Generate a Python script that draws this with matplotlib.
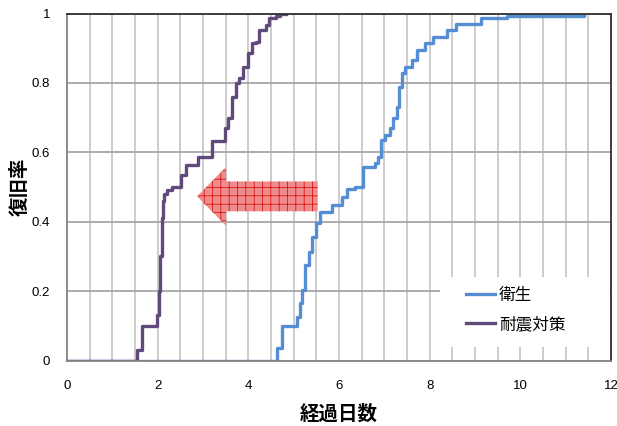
from matplotlib import pyplot as plt
from matplotlib.patches import FancyArrow, Rectangle
from matplotlib.ticker import MultipleLocator

# elapsed days / recovery rate (empirical step curves)
eisei_days = [0, 4.64, 4.74, 5.07, 5.13, 5.18, 5.25, 5.33, 5.40, 5.50, 5.59, 5.84, 6.06, 6.18,
              6.35, 6.54, 6.79, 6.87, 6.92, 7.02, 7.13, 7.18, 7.27, 7.33, 7.38, 7.46, 7.60, 7.71,
              7.90, 8.08, 8.39, 8.58, 9.13, 9.71, 11.40]
eisei_rate = [0, 0.036, 0.10, 0.126, 0.165, 0.203, 0.275, 0.314, 0.357, 0.395, 0.429, 0.448,
              0.472, 0.493, 0.50, 0.558, 0.568, 0.587, 0.635, 0.65, 0.669, 0.698, 0.731, 0.789,
              0.828, 0.847, 0.866, 0.895, 0.914, 0.933, 0.952, 0.971, 0.986, 0.993, 0.998]

taishin_days = [0, 1.54, 1.65, 1.98, 2.03, 2.06, 2.09, 2.12, 2.15, 2.20, 2.31, 2.51, 2.63, 2.90,
                3.19, 3.49, 3.56, 3.63, 3.72, 3.80, 3.88, 3.99, 4.08, 4.16, 4.23, 4.38, 4.45,
                4.60, 4.70, 4.83]
taishin_rate = [0, 0.03, 0.10, 0.13, 0.20, 0.30, 0.41, 0.46, 0.48, 0.49, 0.50, 0.535, 0.563,
                0.586, 0.633, 0.67, 0.70, 0.76, 0.80, 0.813, 0.847, 0.885, 0.914, 0.919, 0.952,
                0.967, 0.986, 0.993, 0.998, 1.0]

labels = ['衛生', '耐震対策']
x_ticks = [0, 2, 4, 6, 8, 10, 12]
y_ticks = [0, 0.2, 0.4, 0.6, 0.8, 1]

plt.rcParams['font.family'] = ['Liberation Sans', 'Noto Sans CJK JP']
plt.rcParams['hatch.linewidth'] = 0.5

fig = plt.figure(figsize=(6.17, 4.26), dpi=100)
ax = fig.add_axes([0.1086, 0.1537, 0.8817, 0.8146])

ax.plot(eisei_days, eisei_rate, drawstyle='steps-post', color='#558ED5', lw=2.4, label=labels[0])
ax.plot(taishin_days, taishin_rate, drawstyle='steps-post', color='#604A7B', lw=2.4, label=labels[1])

# shift arrow
arrow = FancyArrow(5.53, 0.473, -2.66, 0, width=0.086, head_width=0.17, head_length=0.64,
                   length_includes_head=True, facecolor='#ee8c8c', edgecolor='#d80000',
                   hatch='++', linewidth=0, zorder=3)
ax.add_patch(arrow)

ax.set_xlim(0, 12)
ax.set_ylim(0, 1)
ax.set_xticks(x_ticks)
ax.set_xticklabels([str(t) for t in x_ticks])
ax.set_yticks(y_ticks)
ax.set_yticklabels(['0', '0.2', '0.4', '0.6', '0.8', '1'])
ax.xaxis.set_minor_locator(MultipleLocator(0.5))
ax.tick_params(axis='both', which='both', length=0, labelsize=9.5)
ax.tick_params(axis='x', pad=14)
ax.tick_params(axis='y', pad=12)

ax.set_axisbelow(True)
ax.xaxis.grid(True, which='both', color='#c8c8c8', lw=1.3)
ax.yaxis.grid(True, which='major', color='#a6a6a6', lw=1.3)

for side in ['left', 'bottom']:
    ax.spines[side].set_color('#858585')
    ax.spines[side].set_linewidth(1.3)
for side in ['top', 'right']:
    ax.spines[side].set_color('#303030')
    ax.spines[side].set_linewidth(1.3)

# white block behind the legend
ax.add_patch(Rectangle((0.686, 0.039), 0.312, 0.202, transform=ax.transAxes,
                       facecolor='white', edgecolor='none', zorder=1))
ax.legend(loc='upper left', bbox_to_anchor=(0.733, 0.213), frameon=False, borderpad=0,
          borderaxespad=0, handlelength=1.75, handletextpad=0.25, labelspacing=0.75,
          prop={'family': ['Noto Sans CJK JP'], 'size': 12})

ax.set_xlabel('経過日数', fontsize=14, fontweight='bold', family=['Noto Sans CJK JP'], labelpad=9)
ax.set_ylabel('復旧率', fontsize=14, fontweight='bold', family=['Noto Sans CJK JP'], labelpad=2)

fig.savefig('out.png', dpi=100)
